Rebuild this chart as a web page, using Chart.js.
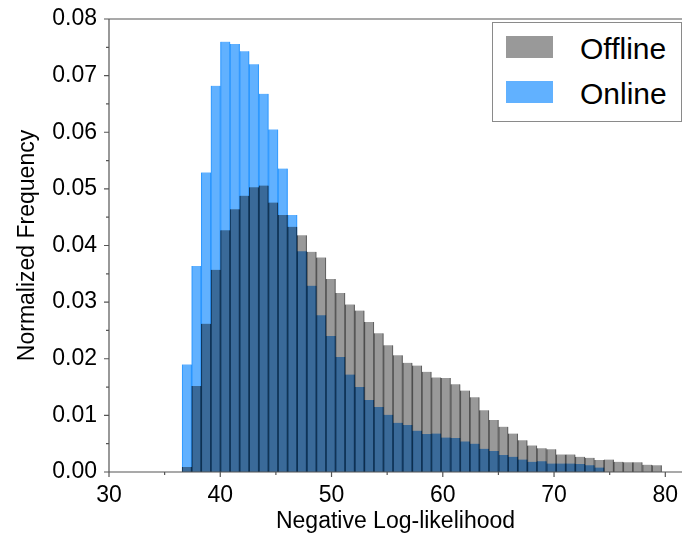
<!DOCTYPE html>
<html>
<head>
<meta charset="utf-8">
<script src="https://cdn.jsdelivr.net/npm/chart.js@4.4.1/dist/chart.umd.min.js"></script>
<style>
  html, body { margin: 0; padding: 0; background: #fff; }
  #wrap { position: relative; width: 682px; height: 539px; overflow: hidden; }
  #legend {
    position: absolute; left: 492px; top: 22px; width: 188px; height: 98px;
    border: 1px solid #8a8a8a; background: #fff;
    font-family: 'Liberation Sans', Arial, sans-serif; font-size: 30px; color: #000;
  }
  .item { position: absolute; left: 13px; width: 170px; height: 22px; }
  .swatch { position: absolute; left: 0; top: 0; width: 47px; height: 22px; }
  .label { position: absolute; left: 74px; top: -2px; line-height: 30px; white-space: nowrap; }
</style>
</head>
<body>
<div id="wrap">
  <canvas id="chart1" width="682" height="539"></canvas>
  <div id="legend"></div>
</div>
<script>
// bin centres of the histogram (Negative Log-likelihood)
const binCenters = [
  37.00, 37.86, 38.72, 39.59, 40.45, 41.31, 42.17, 43.03, 43.90, 44.76,
  45.62, 46.48, 47.34, 48.21, 49.07, 49.93, 50.79, 51.65, 52.52, 53.38,
  54.24, 55.10, 55.96, 56.83, 57.69, 58.55, 59.41, 60.27, 61.14, 62.00,
  62.86, 63.72, 64.58, 65.45, 66.31, 67.17, 68.03, 68.89, 69.76, 70.62,
  71.48, 72.34, 73.20, 74.07, 74.93, 75.79, 76.65, 77.51, 78.38, 79.24
];

const offlineValues = [
  0.0009, 0.0152, 0.0262, 0.0357, 0.0427, 0.0464, 0.0488, 0.0503, 0.0506, 0.0476,
  0.0454, 0.0433, 0.0418, 0.0389, 0.0379, 0.0341, 0.0316, 0.0296, 0.0285, 0.0265,
  0.0245, 0.0224, 0.0206, 0.0193, 0.0188, 0.0177, 0.0167, 0.0166, 0.0155, 0.0144,
  0.0132, 0.0109, 0.0092, 0.0080, 0.0068, 0.0056, 0.0047, 0.0042, 0.0040, 0.0031,
  0.0031, 0.0027, 0.0025, 0.0021, 0.0022, 0.0018, 0.0017, 0.0017, 0.0013, 0.0012
];

const onlineValues = [
  0.0190, 0.0364, 0.0529, 0.0682, 0.0760, 0.0756, 0.0743, 0.0720, 0.0668, 0.0605,
  0.0536, 0.0454, 0.0390, 0.0329, 0.0277, 0.0240, 0.0203, 0.0172, 0.0150, 0.0127,
  0.0115, 0.0101, 0.0087, 0.0083, 0.0073, 0.0067, 0.0068, 0.0061, 0.0060, 0.0054,
  0.0050, 0.0041, 0.0037, 0.0030, 0.0027, 0.0022, 0.0018, 0.0019, 0.0015, 0.0015,
  0.0015, 0.0014, 0.0012, 0.0008
];

const xMajorTicks = [30, 40, 50, 60, 70, 80];
const xMinorTicks = [35, 45, 55, 65, 75];
const yMajorTicks = [0, 0.01, 0.02, 0.03, 0.04, 0.05, 0.06, 0.07, 0.08];
const yMinorTicks = [0.005, 0.015, 0.025, 0.035, 0.045, 0.055, 0.065, 0.075];

const fontFamily = "'Liberation Sans', Arial, sans-serif";

function toPoints(values) {
    return values.map((v, i) => ({ x: binCenters[i], y: v }));
}

// spines + outward tick marks, like matplotlib
const frameAndTicks = {
    id: 'frameAndTicks',
    afterDraw(chart) {
        const ctx = chart.ctx;
        const area = chart.chartArea;
        const xs = chart.scales.x;
        const ys = chart.scales.y;
        ctx.save();
        ctx.strokeStyle = '#555';
        ctx.lineWidth = 1.2;
        ctx.beginPath();
        ctx.moveTo(area.left, area.top);
        ctx.lineTo(area.right, area.top);
        ctx.moveTo(area.left, area.top);
        ctx.lineTo(area.left, area.bottom);
        ctx.moveTo(area.left, area.bottom);
        ctx.lineTo(area.right, area.bottom);
        xMajorTicks.forEach(v => {
            const p = xs.getPixelForValue(v);
            ctx.moveTo(p, area.bottom);
            ctx.lineTo(p, area.bottom + 5);
        });
        xMinorTicks.forEach(v => {
            const p = xs.getPixelForValue(v);
            ctx.moveTo(p, area.bottom);
            ctx.lineTo(p, area.bottom + 3);
        });
        yMajorTicks.forEach(v => {
            const p = ys.getPixelForValue(v);
            ctx.moveTo(area.left, p);
            ctx.lineTo(area.left - 5, p);
        });
        yMinorTicks.forEach(v => {
            const p = ys.getPixelForValue(v);
            ctx.moveTo(area.left, p);
            ctx.lineTo(area.left - 3, p);
        });
        ctx.stroke();
        ctx.restore();
    }
};

const ctx1 = document.getElementById('chart1').getContext('2d');

const chart1 = new Chart(ctx1, {
    type: 'bar',
    data: {
        datasets: [{
            label: 'Offline',
            data: toPoints(offlineValues),
            backgroundColor: 'rgba(0, 0, 0, 0.4)',
            borderColor: 'rgba(0, 0, 0, 0.5)',
            borderWidth: { left: 0.5, right: 0.5, top: 0, bottom: 0 },
            barPercentage: 1,
            categoryPercentage: 1,
            grouped: false
        }, {
            label: 'Online',
            data: toPoints(onlineValues),
            backgroundColor: 'rgba(30, 144, 255, 0.7)',
            borderColor: 'rgba(30, 144, 255, 0.85)',
            borderWidth: { left: 0.5, right: 0.5, top: 0, bottom: 0 },
            barPercentage: 1,
            categoryPercentage: 1,
            grouped: false
        }]
    },
    options: {
        responsive: false,
        animation: false,
        layout: { padding: { top: 19, right: 0, bottom: 0, left: 0 } },
        plugins: {
            legend: { display: false },
            tooltip: { enabled: false }
        },
        scales: {
            x: {
                type: 'linear',
                offset: false,
                min: 30,
                max: 81.5,
                afterBuildTicks: scale => { scale.ticks = xMajorTicks.map(v => ({ value: v })); },
                afterFit: scale => {
                    scale.height = 67;
                    scale.paddingLeft = 0;
                    scale.paddingRight = 0;
                },
                grid: { display: false, drawTicks: false, offset: false },
                border: { display: false },
                ticks: {
                    padding: 10,
                    color: '#000',
                    font: { family: fontFamily, size: 23 },
                    callback: v => String(v)
                },
                title: {
                    display: true,
                    text: 'Negative Log-likelihood',
                    color: '#000',
                    font: { family: fontFamily, size: 23 },
                    padding: { top: 0, bottom: 4 }
                }
            },
            y: {
                min: 0,
                max: 0.08,
                afterBuildTicks: scale => { scale.ticks = yMajorTicks.map(v => ({ value: v })); },
                afterFit: scale => {
                    scale.width = 109;
                    scale.paddingTop = 0;
                    scale.paddingBottom = 0;
                },
                grid: { display: false, drawTicks: false },
                border: { display: false },
                ticks: {
                    padding: 12,
                    color: '#000',
                    font: { family: fontFamily, size: 23 },
                    callback: v => v.toFixed(2)
                },
                title: {
                    display: true,
                    text: 'Normalized Frequency',
                    color: '#000',
                    font: { family: fontFamily, size: 23 },
                    padding: { top: 14, bottom: 0 }
                }
            }
        }
    },
    plugins: [frameAndTicks]
});

// legend box drawn as html, from the chart's datasets
const legendBox = document.getElementById('legend');
chart1.data.datasets.forEach((ds, i) => {
    const item = document.createElement('div');
    item.className = 'item';
    item.style.top = (13 + i * 45) + 'px';
    const sw = document.createElement('div');
    sw.className = 'swatch';
    sw.style.background = ds.backgroundColor;
    const lab = document.createElement('div');
    lab.className = 'label';
    lab.textContent = ds.label;
    item.appendChild(sw);
    item.appendChild(lab);
    legendBox.appendChild(item);
});
</script>
</body>
</html>
